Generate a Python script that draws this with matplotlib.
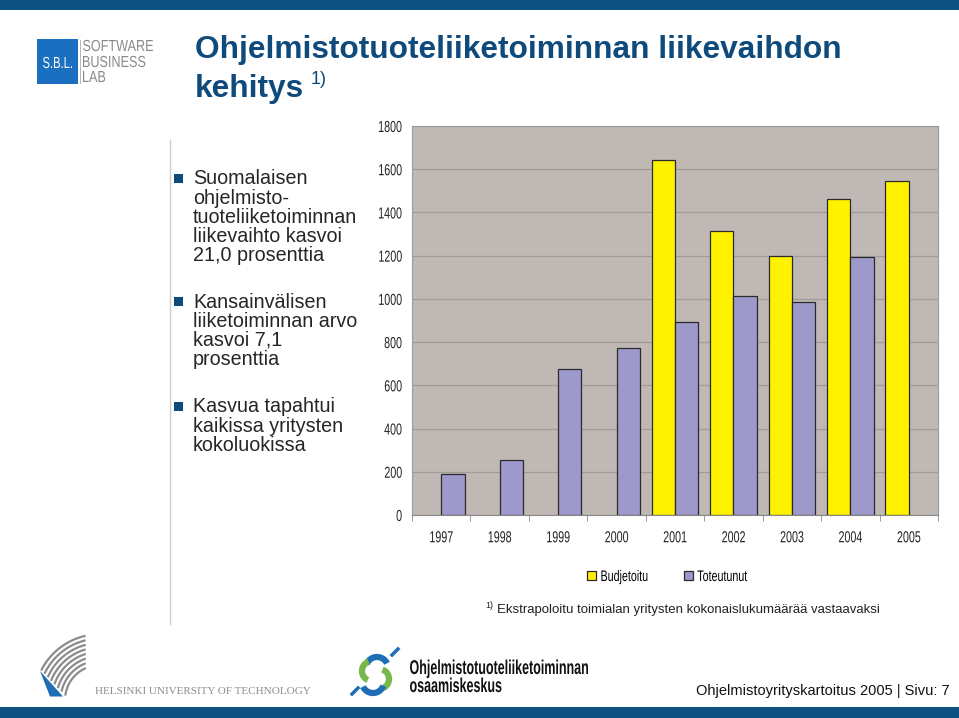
import matplotlib
matplotlib.use("Agg")
import matplotlib.pyplot as plt
from matplotlib import font_manager
from matplotlib.font_manager import FontProperties
from matplotlib.patches import Rectangle, Polygon, PathPatch
from matplotlib.textpath import TextPath
from matplotlib.transforms import Affine2D
from matplotlib.patheffects import AbstractPathEffect
import numpy as np

years = ["1997", "1998", "1999", "2000", "2001", "2002", "2003", "2004", "2005"]
budjetoitu = [np.nan, np.nan, np.nan, np.nan, 1641, 1315, 1197, 1463, 1545]
toteutunut = [188, 254, 677, 774, 894, 1012, 986, 1192, np.nan]
yticks = [0, 200, 400, 600, 800, 1000, 1200, 1400, 1600, 1800]
series_names = ["Budjetoitu", "Toteutunut"]

bullets = [
    ["Suomalaisen", "ohjelmisto-", "tuoteliiketoiminnan", "liikevaihto kasvoi", "21,0 prosenttia"],
    ["Kansainvälisen", "liiketoiminnan arvo", "kasvoi 7,1", "prosenttia"],
    ["Kasvua tapahtui", "kaikissa yritysten", "kokoluokissa"],
]

avail = {f.name for f in font_manager.fontManager.ttflist}
def pick(*names):
    for n in names:
        if n in avail:
            return n
    return "DejaVu Sans"

SANS = pick("Liberation Sans", "Arial", "DejaVu Sans")
SERIF = pick("Liberation Serif", "DejaVu Serif")


class Condense(AbstractPathEffect):
    """Horizontally condense text (emulates a narrow typeface)."""
    def __init__(self, sx, anchor="center"):
        super().__init__()
        self.sx = sx
        self.anchor = anchor

    def draw_path(self, renderer, gc, tpath, affine, rgbFace=None):
        ext = tpath.get_extents()
        if self.anchor == "right":
            a = ext.x1
        elif self.anchor == "left":
            a = ext.x0
        else:
            a = 0.5 * (ext.x0 + ext.x1)
        t = Affine2D().translate(-a, 0).scale(self.sx, 1).translate(a, 0) + affine
        renderer.draw_path(gc, tpath, t, rgbFace)


W, H = 959, 718
fig = plt.figure(figsize=(W / 100, H / 100), dpi=100)
fig.patch.set_facecolor("white")

deco = fig.add_axes([0, 0, 1, 1])
deco.set_xlim(0, W)
deco.set_ylim(H, 0)
deco.axis("off")

BLUE = "#0d5283"
TITLE_C = "#0f4a7c"


def ctext(x, baseline, s, size_px, color, width=None, sx=None, weight="normal",
          family=SANS, ha="left"):
    tp = TextPath((0, 0), s, size=size_px, prop=FontProperties(family=family, weight=weight))
    bb = tp.get_extents()
    if sx is None:
        sx = width / bb.width if width else 1.0
    w = bb.width * sx
    x0 = x - bb.x0 * sx
    if ha == "center":
        x0 -= w / 2
    elif ha == "right":
        x0 -= w
    path = Affine2D().scale(sx, -1).translate(x0, baseline).transform_path(tp)
    deco.add_patch(PathPatch(path, facecolor=color, edgecolor="none", lw=0))
    return sx


deco.add_patch(Rectangle((0, 0), W, 10, color=BLUE, lw=0))
deco.add_patch(Rectangle((0, 707), W, 11, color=BLUE, lw=0))

# SBL logo
deco.add_patch(Rectangle((37, 39), 41, 45, color="#1b6fc0", lw=0))
ctext(57.5, 68, "S.B.L.", 16, "white", width=29, ha="center")
deco.plot([80, 80], [40, 83], color="#aaaaaa", lw=0.6)
sx = ctext(83, 51, "SOFTWARE", 16, "#8a8a8a", width=70)
ctext(83, 67, "BUSINESS", 16, "#8a8a8a", sx=sx)
ctext(83, 82, "LAB", 16, "#8a8a8a", sx=sx)

# Title
deco.text(195, 50, "Ohjelmistotuoteliiketoiminnan liikevaihdon", color=TITLE_C,
          fontsize=22.8, fontweight="bold", family=SANS, ha="left", va="center")
deco.text(195, 89, "kehitys", color=TITLE_C, fontsize=22.8, fontweight="bold",
          family=SANS, ha="left", va="center")
deco.text(311, 80, "1)", color=TITLE_C, fontsize=13, family=SANS, ha="left", va="center")

# separator line
deco.plot([170, 170], [140, 624], color="#cccccc", lw=1)

# bullets
starts = [179, 302, 407]
for lines, y0 in zip(bullets, starts):
    deco.add_patch(Rectangle((174, y0 - 5), 9, 9, color=TITLE_C, lw=0))
    for i, ln in enumerate(lines):
        deco.text(193, y0 + i * 19.2, ln, color="#262626", fontsize=14.2, family=SANS,
                  ha="left", va="center")

# footnote
deco.text(485, 606, "1)", fontsize=6.5, family=SANS, ha="left", va="center", color="#222222")
deco.text(497, 610, "Ekstrapoloitu toimialan yritysten kokonaislukumäärää vastaavaksi",
          fontsize=9.5, family=SANS, ha="left", va="center", color="#222222")

# HUT logo: concentric arcs clipped by the right edge and the blue diagonal
cx, cy = 100, 700
th = np.linspace(np.pi / 2, np.pi, 200)
for r in np.arange(35, 69, 4.4):
    xs = cx + r * np.cos(th)
    ys = cy - r * np.sin(th)
    diag = 671 + (xs - 40) * (25 / 24)
    m = (xs <= 86) & (ys <= diag - 1.5)
    xs, ys = xs[m], ys[m]
    if len(xs) > 1:
        deco.plot(xs, ys, color="#8c8c8c", lw=1.6, solid_capstyle="butt")
deco.add_patch(Polygon([[40, 671], [63, 696.5], [50, 696.5]], closed=True, color="#1f6db5", lw=0))
deco.text(95, 692, "HELSINKI UNIVERSITY OF TECHNOLOGY", fontsize=8, family=SERIF,
          color="#8c8c8c", ha="left", va="center")

# Osaamiskeskus logo
def arc(cx, cy, r, a0, a1, color, lw=4.5):
    t = np.radians(np.linspace(a0, a1, 40))
    deco.plot(cx + r * np.cos(t), cy - r * np.sin(t), color=color, lw=lw, solid_capstyle="butt")

arc(377, 668, 11, 25, 160, "#1f6db5")
arc(372, 671, 10, 110, 245, "#78b84a")
arc(379, 679, 10, -65, 70, "#78b84a")
arc(373, 682, 11, 205, 340, "#1f6db5")
deco.plot([392, 398], [655, 649], color="#1f6db5", lw=2.5)
deco.plot([352, 358], [694, 688], color="#1f6db5", lw=2.5)
ctext(410, 674, "Ohjelmistotuoteliiketoiminnan", 20, "#111111", width=178, weight="bold")
sx2 = 178 / TextPath((0, 0), "Ohjelmistotuoteliiketoiminnan", size=20,
                     prop=FontProperties(family=SANS, weight="bold")).get_extents().width
ctext(410, 692, "osaamiskeskus", 20, "#111111", sx=sx2, weight="bold")

deco.text(950, 691, "Ohjelmistoyrityskartoitus 2005 | Sivu: 7", fontsize=10.5,
          family=SANS, ha="right", va="center", color="#111111")

# Chart
L, R, T, B = 412, 938, 126, 515
ax = fig.add_axes([L / W, 1 - B / H, (R - L) / W, (B - T) / H])
ax.set_facecolor("#c0b8b4")
x = np.arange(len(years))
w = 0.4
ax.bar(x - 0.2, budjetoitu, width=w, color="#fff200", edgecolor="#2a2a2a", lw=0.9,
       label=series_names[0], zorder=3)
ax.bar(x + 0.2, toteutunut, width=w, color="#9d99cb", edgecolor="#2a2a2a", lw=0.9,
       label=series_names[1], zorder=3)
ax.set_xlim(-0.5, len(years) - 0.5)
ax.set_ylim(0, 1800)
ax.set_yticks(yticks)
ax.set_yticklabels([str(v) for v in yticks], family=SANS, fontsize=11.5, color="#222222")
for lab in ax.get_yticklabels():
    lab.set_path_effects([Condense(0.67, "right")])
ax.yaxis.grid(True, color="#a39b97", lw=0.9, zorder=0)
ax.set_axisbelow(True)
ax.tick_params(axis="y", length=0, pad=7)
ax.set_xticks(x)
ax.set_xticklabels(years, family=SANS, fontsize=11.5, color="#222222")
for lab in ax.get_xticklabels():
    lab.set_path_effects([Condense(0.67, "center")])
ax.set_xticks(np.arange(-0.5, len(years)), minor=True)
ax.tick_params(axis="x", which="major", length=0, pad=11)
ax.tick_params(axis="x", which="minor", length=4, color="#888888")
for s in ["top", "right", "left"]:
    ax.spines[s].set_color("#9a9a9a")
    ax.spines[s].set_linewidth(0.8)
ax.spines["bottom"].set_color("#888888")

leg = fig.legend(loc="center", bbox_to_anchor=(678 / W, 1 - 577 / H), ncol=2, frameon=False,
                 prop={"family": SANS, "size": 11}, handlelength=0.55, handleheight=0.55,
                 handletextpad=0.3, columnspacing=1.05)
for t in leg.get_texts():
    t.set_path_effects([Condense(0.7, "left")])

fig.savefig("out.png", dpi=100)
